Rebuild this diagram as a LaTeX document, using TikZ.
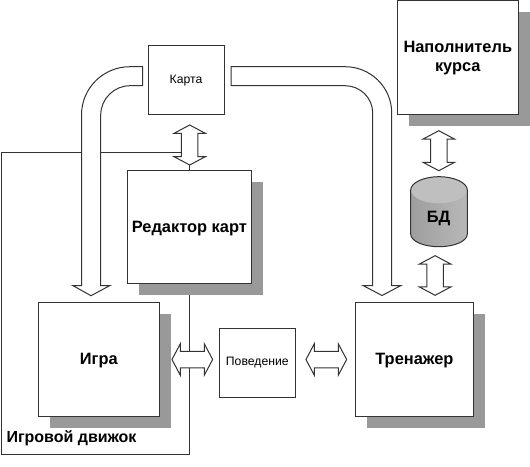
\documentclass[tikz,border=0pt]{standalone}
\usepackage{fontspec}
\setmainfont{Liberation Sans}
\usetikzlibrary{shapes.arrows,shadows}

\definecolor{shadowgray}{HTML}{999999}
\definecolor{linegray}{HTML}{333333}

\tikzset{
  blockbox/.style={draw=linegray, fill=white, inner sep=0pt, align=center, font=\fontsize{16.4}{19}\selectfont\bfseries,
    copy shadow={fill=shadowgray, draw=none, shadow xshift=11.5pt, shadow yshift=-11.5pt}},
  oneline/.style={text height=14pt},
  smallbox/.style={draw=linegray, fill=white, inner sep=0pt, font=\fontsize{12.2}{14}\selectfont},
  dblarrow/.style={shape=double arrow, draw=linegray, fill=white, inner xsep=0pt, inner ysep=7.75pt,
    double arrow head extend=7.5pt, double arrow tip angle=124},
  bandarrow/.style={draw=linegray, fill=white, line join=miter},
}
\newcommand{\dbOutline}{(410.7,190) -- (410.7,234) .. controls (410.7,241) and (423,246.7) .. (439,246.7)
  .. controls (455,246.7) and (467.3,241) .. (467.3,234) -- (467.3,190)
  .. controls (467.3,183) and (455,176.7) .. (439,176.7) .. controls (423,176.7) and (410.7,183) .. (410.7,190) -- cycle}

\begin{document}
\begin{tikzpicture}[x=1pt, y=-1pt, line width=1pt]

  %% engine frame, everything else sits on top of it
  \coordinate (engineTR) at (189.5,152);
  \coordinate (engineTL) at (1,152);
  \coordinate (engineBL) at (1,454);
  \coordinate (engineBR) at (189.5,454);
  \coordinate (engineEnd) at (189.5,165);
  \draw[draw=linegray] (engineTR) -- (engineTL) -- (engineBL) -- (engineBR) -- (engineEnd);

  %% boxes
  \node[smallbox, text height=10.5pt, minimum width=76pt, minimum height=69pt] (map) at (186,79.5) {Карта};
  \node[blockbox, oneline, minimum width=124.7pt, minimum height=113.3pt] (editor) at (189.4,227.3) {Редактор карт};
  \node[blockbox, oneline, minimum width=121pt, minimum height=113.6pt] (game) at (98.8,359.5) {Игра};
  \node[smallbox, minimum width=76pt, minimum height=69pt] (behaviour) at (257.3,363) {Поведение};
  \node[blockbox, oneline, minimum width=117.3pt, minimum height=113.6pt] (trainer) at (414.4,359.5) {Тренажер};
  \node[blockbox, minimum width=121pt, minimum height=113.3pt] (filler) at (457.8,57.6) {Наполнитель\\курса};

  %% database
  \path[left color=black!38, middle color=black!16, right color=black!28] \dbOutline;
  \fill[black!25] (439,190) ellipse [x radius=28, y radius=13.3];
  \draw[draw=linegray] \dbOutline;
  \node[inner sep=0pt, font=\fontsize{16.4}{20}\selectfont\bfseries] (db) at (438.5,218) {БД};

  %% double arrows
  \node[dblarrow, rotate=90, minimum height=40pt] (mapArrow) at (189.7,145) {};
  \node[dblarrow, minimum height=40.7pt] (gameArrow) at (192.3,359.5) {};
  \node[dblarrow, minimum height=40.7pt] (trainerArrow) at (326.3,359.5) {};
  \node[dblarrow, rotate=90, minimum height=40pt] (fillerArrow) at (438.8,150.7) {};
  \node[dblarrow, rotate=90, minimum height=39.6pt] (dbArrow) at (435.1,275.5) {};

  %% band arrows out of the map
  \draw[bandarrow] (142.7,66.7) -- (130,66.7) .. controls (103,66.7) and (81.5,88.3) .. (81.5,115)
    -- (81.5,285.5) -- (72.7,285.5) -- (91,295.7) -- (110,285.5) -- (100.7,285.5)
    -- (100.7,115) .. controls (100.7,99) and (114,85.7) .. (130,85.7) -- (142.7,85.7) -- cycle;
  \draw[bandarrow] (231,66.7) -- (345,66.7) .. controls (370.7,66.7) and (391.7,87.3) .. (391.7,113)
    -- (391.7,285.5) -- (401,285.5) -- (382,295.5) -- (363,285.5) -- (372.7,285.5)
    -- (372.7,113) .. controls (372.7,97.8) and (360.2,85.7) .. (345,85.7) -- (231,85.7) -- cycle;

  \node[anchor=west, inner sep=0pt, font=\fontsize{16}{18}\selectfont\bfseries] (engineLabel) at (6,438.5) {Игровой движок};

  \pgfresetboundingbox
  \path[use as bounding box] (0,0) rectangle (530,466);
\end{tikzpicture}
\end{document}
